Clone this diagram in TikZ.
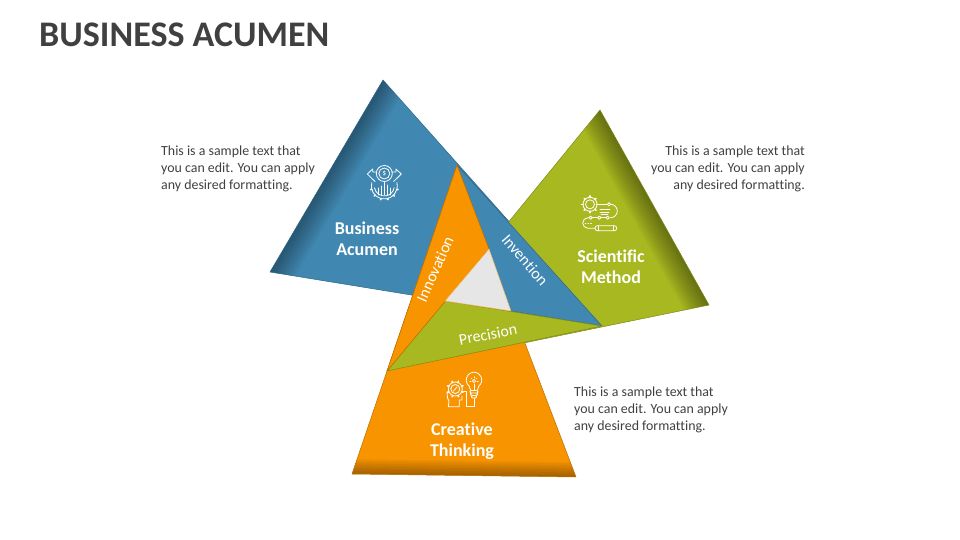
\documentclass[tikz,border=0pt]{standalone}
\usepackage{fontspec}
\setmainfont[Ligatures=NoCommon]{Carlito}
\usetikzlibrary{calc}
\definecolor{bluetri}{RGB}{64,136,178}
\definecolor{greentri}{RGB}{168,184,32}
\definecolor{orangetri}{RGB}{247,148,0}
\definecolor{greytri}{RGB}{230,230,230}
\definecolor{textgrey}{RGB}{64,64,64}
\tikzset{
  tribox/.style={line width=0.5pt,line join=round},
  sample/.style={text=textgrey,font=\fontsize{13.9}{17}\selectfont,inner sep=0pt},
  title/.style={text=textgrey,font=\fontsize{36}{40}\selectfont\bfseries,inner sep=0pt,anchor=west},
  tag/.style={text=white,font=\fontsize{18}{21}\selectfont\bfseries,align=center,inner sep=0pt},
  striptag/.style={text=white,font=\fontsize{16}{18}\selectfont,inner sep=0pt},
  iconline/.style={white,line width=0.8pt,line cap=round,line join=round},
}

\begin{document}
\begin{tikzpicture}[x=1pt,y=-1pt]
\useasboundingbox (0,0) rectangle (960,540);

% The corners
\coordinate (bluetop) at (383,80);
\coordinate (blueleft) at (270,272);
\coordinate (blueright) at (602,326);
\coordinate (greentop) at (600,110);
\coordinate (greenright) at (709,305);
\coordinate (greenleft) at (387,371);
\coordinate (orangetop) at (457,165);
\coordinate (orangeleft) at (352,474);
\coordinate (orangeright) at (576,477);
\coordinate (midtop) at (489,249);
\coordinate (midleft) at (445,301);
\coordinate (midright) at (511,311);

% The blue triangle
\fill[bluetri] (bluetop) -- (blueright) -- (blueleft) -- cycle;
\begin{scope}
  \clip (bluetop) -- (blueright) -- (blueleft) -- cycle;
  \foreach \w in {2,4,...,24}
    \fill[black,opacity=0.03] ($(bluetop)!\w pt!90:(blueleft)$) -- ($(bluetop)!\w pt!-90:(blueleft)$) -- ($(blueleft)!\w pt!90:(bluetop)$) -- ($(blueleft)!\w pt!-90:(bluetop)$) -- cycle;
\end{scope}
\draw[tribox,bluetri!75!black] (bluetop) -- (blueright) -- (blueleft) -- cycle;

% The green triangle
\fill[greentri] (greentop) -- (greenright) -- (greenleft) -- cycle;
\begin{scope}
  \clip (greentop) -- (greenright) -- (greenleft) -- cycle;
  \foreach \w in {2,4,...,24}
    \fill[black,opacity=0.035] ($(greentop)!\w pt!90:(greenright)$) -- ($(greentop)!\w pt!-90:(greenright)$) -- ($(greenright)!\w pt!90:(greentop)$) -- ($(greenright)!\w pt!-90:(greentop)$) -- cycle;
\end{scope}
\draw[tribox,greentri!75!black] (greentop) -- (greenright) -- (greenleft) -- cycle;

% The orange triangle
\fill[orangetri] (orangetop) -- (orangeright) -- (orangeleft) -- cycle;
\begin{scope}
  \clip (orangetop) -- (orangeright) -- (orangeleft) -- cycle;
  \foreach \w in {1.5,3,...,15}
    \fill[black,opacity=0.035] ($(orangeleft)!\w pt!90:(orangeright)$) -- ($(orangeleft)!\w pt!-90:(orangeright)$) -- ($(orangeright)!\w pt!90:(orangeleft)$) -- ($(orangeright)!\w pt!-90:(orangeleft)$) -- cycle;
\end{scope}
\draw[tribox,orangetri!75!black] (orangetop) -- (orangeright) -- (orangeleft) -- cycle;

% The three strips and the middle
\filldraw[tribox,fill=bluetri,draw=bluetri!75!black] (orangetop) -- (blueright) -- (midright) -- cycle;
\filldraw[tribox,fill=greentri,draw=greentri!75!black] (greenleft) -- (blueright) -- (midleft) -- cycle;
\filldraw[tribox,fill=orangetri,draw=orangetri!75!black] (orangetop) -- (midtop) -- (greenleft) -- cycle;
\filldraw[tribox,fill=greytri,draw=orangetri!60!greytri] (midtop) -- (midright) -- (midleft) -- cycle;

% Title and texts
\node[title] (head) at (39,34.5) {BUSINESS ACUMEN};
\node[sample,align=left,anchor=north west] (textblue) at (161,146) {This is a sample text that\\you can edit. You can apply\\any desired formatting.};
\node[sample,align=right,anchor=north east] (textgreen) at (805,146) {This is a sample text that\\you can edit. You can apply\\any desired formatting.};
\node[sample,align=left,anchor=north west] (textorange) at (574,387) {This is a sample text that\\you can edit. You can apply\\any desired formatting.};

% Labels
\node[tag] (bluetag) at (367,239) {Business\\Acumen};
\node[tag] (greentag) at (611,266.5) {Scientific\\Method};
\node[tag] (orangetag) at (462,441) {Creative\\Thinking};
\node[striptag,rotate=66] (innovation) at (435,269) {Innovation};
\node[striptag,rotate=-49] (invention) at (525,260) {Invention};
\node[striptag,rotate=11] (precision) at (488,334.5) {Precision};

% Icon of the blue triangle
\draw[iconline] (384.3,173.5) circle (8);
\draw[iconline] (384.3,173.5) circle (5.5);
\node[text=white,font=\fontsize{7.5}{8}\selectfont,inner sep=0pt] (dollar) at (384.3,173.5) {\$};
\draw[iconline] (376.5,172) -- (372.7,172) -- (372.7,169) -- (367.3,174) -- (375,181.5);
\draw[iconline] (392.1,172) -- (395.9,172) -- (395.9,169) -- (401.3,174) -- (393.6,181.5);
\draw[iconline] (384.3,186) ++(195:13) arc (195:-15:13);
\foreach \a in {15,45,...,165}
  \draw[iconline,line width=1.6pt] (384.3,186) ++(\a:13) -- ++(\a:1.2);
\draw[iconline] (384.3,186) ++(170:10) arc (170:10:10);
\foreach \x/\top in {378/188,381/186,384.3/182.5,387.5/185,390.5/188}
  \draw[iconline] (\x,\top) -- (\x,195);

% Icon of the green triangle
\draw[iconline] (590,204.3) circle (4.5);
\draw[iconline] (590,204.3) circle (7);
\foreach \a in {0,45,...,315}
  \draw[iconline,line width=1.6pt] (590,204.3) ++(\a:7) -- ++(\a:1.4);
\draw[iconline] (598,204.3) -- (607.4,204.3);
\draw[iconline] (609,204.3) circle (1.6);
\draw[iconline] (610.6,204.3) arc (-90:90:6.7);
\foreach \x in {607.7,599.3,590.7}
  \draw[iconline] (\x,217.7) circle (1.6);
\draw[iconline] (606.1,217.7) -- (600.9,217.7) (597.7,217.7) -- (592.3,217.7);
\draw[iconline] (589.1,217.7) -- (588,217.7) arc (270:90:5.3) -- (595,228.3);
\draw[iconline,rounded corners=2.4pt] (595,225.7) rectangle (616.7,230.7);
\draw[iconline] (598,225.7) -- (598,230.7) (613.5,225.7) -- (613.5,230.7);
\draw[iconline,dotted] (585,223) -- (592,223);
\foreach \y/\xa/\xb in {209.5/600/610,212/600/609,214.5/601/608}
  \draw[iconline,line width=0.6pt] (\xa,\y) -- (\xb,\y);

% Icon of the orange triangle
\draw[iconline] (455.3,389) circle (4.5);
\draw[iconline] (455.3,389) circle (7);
\foreach \a in {0,45,...,315}
  \draw[iconline,line width=1.6pt] (455.3,389) ++(\a+22:7) -- ++(\a+22:1.4);
\draw[iconline] (453.5,391) -- (457,387);
\draw[iconline] (447,392) -- (447.5,398) -- (449,401) -- (448.3,406.7) -- (459.3,406.7) -- (459.3,400) -- (462,400) -- (462,396);
\draw[iconline] (474,380) ++(128:7.8) arc (128:412:7.8);
\draw[iconline] (469.2,386.2) -- (470.5,390) (477.5,390) -- (478.8,386.2);
\draw[iconline] (474,384) -- (474,390);
\draw[iconline] (474,381) circle (1.6);
\foreach \a in {0,45,...,180}
  \draw[iconline,line width=0.6pt] (474,381) ++(-\a:3) -- ++(-\a:1.3);
\draw[iconline,rounded corners=1pt] (470,390.5) rectangle (478,393) (470.5,393) rectangle (477.5,395.5) (471.5,395.5) rectangle (476.5,398);
\draw[iconline] (474,398) -- (474,406.7) -- (466.7,406.7) -- (466.7,391.5) -- (463.5,391.5);
\end{tikzpicture}
\end{document}
